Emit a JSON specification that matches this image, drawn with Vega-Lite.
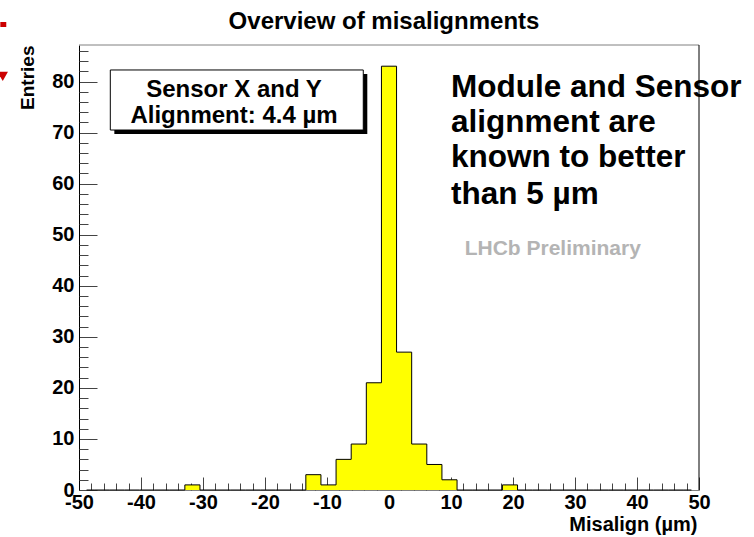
{
  "$schema": "https://vega.github.io/schema/vega-lite/v6.json",
  "width": 620,
  "height": 445,
  "autosize": "none",
  "padding": {"left": 79, "top": 45, "right": 55, "bottom": 47},
  "background": "white",
  "config": {
    "view": {"stroke": null},
    "font": "Liberation Sans",
    "axis": {"zindex": 1, "grid": false, "labelOverlap": false, "labelFlush": false, "labelBound": false}
  },
  "title": {
    "text": "Overview of misalignments",
    "font": "Liberation Sans",
    "fontSize": 24,
    "fontWeight": "bold",
    "color": "black",
    "anchor": "middle",
    "frame": "group",
    "baseline": "alphabetic",
    "offset": -7,
    "dx": -5,
    "dy": 24
  },
  "resolve": {"axis": {"x": "independent", "y": "independent"}},
  "datasets": {
    "bins": [
      {"misalign": -48.780, "entries": 0},
      {"misalign": -46.341, "entries": 0},
      {"misalign": -43.902, "entries": 0},
      {"misalign": -41.463, "entries": 0},
      {"misalign": -39.024, "entries": 0},
      {"misalign": -36.585, "entries": 0},
      {"misalign": -34.146, "entries": 0},
      {"misalign": -31.707, "entries": 1},
      {"misalign": -29.268, "entries": 0},
      {"misalign": -26.829, "entries": 0},
      {"misalign": -24.390, "entries": 0},
      {"misalign": -21.951, "entries": 0},
      {"misalign": -19.512, "entries": 0},
      {"misalign": -17.073, "entries": 0},
      {"misalign": -14.634, "entries": 0},
      {"misalign": -12.195, "entries": 3},
      {"misalign": -9.756, "entries": 1},
      {"misalign": -7.317, "entries": 6},
      {"misalign": -4.878, "entries": 9},
      {"misalign": -2.439, "entries": 21},
      {"misalign": 0.0, "entries": 83},
      {"misalign": 2.439, "entries": 27},
      {"misalign": 4.878, "entries": 9},
      {"misalign": 7.317, "entries": 5},
      {"misalign": 9.756, "entries": 2},
      {"misalign": 12.195, "entries": 0},
      {"misalign": 14.634, "entries": 0},
      {"misalign": 17.073, "entries": 0},
      {"misalign": 19.512, "entries": 1},
      {"misalign": 21.951, "entries": 0},
      {"misalign": 24.390, "entries": 0},
      {"misalign": 26.829, "entries": 0},
      {"misalign": 29.268, "entries": 0},
      {"misalign": 31.707, "entries": 0},
      {"misalign": 34.146, "entries": 0},
      {"misalign": 36.585, "entries": 0},
      {"misalign": 39.024, "entries": 0},
      {"misalign": 41.463, "entries": 0},
      {"misalign": 43.902, "entries": 0},
      {"misalign": 46.341, "entries": 0},
      {"misalign": 48.780, "entries": 0}
    ],
    "frame": [{}],
    "statsBox": [{"x": -44.95, "x2": -4.15, "y": 70.5, "y2": 82.26}],
    "statsShadow": [{"x": -44.3, "x2": -3.5, "y": 69.72, "y2": 81.47}],
    "statsText": [
      {"x": -25.0, "y": 76.9, "label": "Sensor X and Y"},
      {"x": -25.0, "y": 71.8, "label": "Alignment: 4.4 µm"}
    ],
    "note": [
      {"x": 10.0, "y": 76.97, "label": "Module and Sensor"},
      {"x": 10.0, "y": 70.11, "label": "alignment are"},
      {"x": 10.0, "y": 63.26, "label": "known to better"},
      {"x": 10.0, "y": 56.0, "label": "than 5 µm"}
    ],
    "stamp": [{"x": 12.2, "y": 46.0, "label": "LHCb Preliminary"}],
    "slideMark": [{"x": -62.69, "x2": -61.73, "y": 90.68, "y2": 91.66}],
    "slideArrow": [{"x": -62.3, "y": 81.0}]
  },
  "layer": [
    {
      "data": {"name": "bins"},
      "mark": {"type": "area", "interpolate": "step", "color": "#ffff00"},
      "encoding": {
        "x": {
          "field": "misalign",
          "type": "quantitative",
          "scale": {"domain": [-50, 50], "nice": false, "zero": false},
          "axis": {
            "orient": "bottom",
            "title": "Misalign (µm)",
            "values": [-50, -40, -30, -20, -10, 0, 10, 20, 30, 40, 50],
            "labelExpr": "'' + datum.value",
            "tickSize": -13,
            "tickColor": "#444444",
            "domainColor": "#808080",
            "labelFont": "Liberation Sans",
            "labelFontSize": 20,
            "labelFontWeight": "bold",
            "labelColor": "black",
            "labelPadding": 15,
            "labelFlush": false,
            "labelOverlap": false,
            "labelBound": false,
            "titleFont": "Liberation Sans",
            "titleFontSize": 20,
            "titleFontWeight": "bold",
            "titleColor": "black",
            "titleAlign": "right",
            "titleBaseline": "alphabetic",
            "titleX": 618,
            "titleY": 40
          }
        },
        "y": {
          "field": "entries",
          "type": "quantitative",
          "scale": {"domain": [0, 87.15], "nice": false},
          "axis": {
            "orient": "left",
            "title": "Entries",
            "values": [0, 10, 20, 30, 40, 50, 60, 70, 80],
            "labelExpr": "'' + datum.value",
            "tickSize": -18,
            "tickColor": "#444444",
            "domainColor": "black",
            "labelFont": "Liberation Sans",
            "labelFontSize": 20,
            "labelFontWeight": "bold",
            "labelColor": "black",
            "labelPadding": 23,
            "labelFlush": false,
            "labelOverlap": false,
            "labelBound": false,
            "titleFont": "Liberation Sans",
            "titleFontSize": 19,
            "titleFontWeight": "bold",
            "titleColor": "black",
            "titleAngle": -90,
            "titleAlign": "right",
            "titleBaseline": "alphabetic",
            "titleX": -46,
            "titleY": 0
          }
        }
      }
    },
    {
      "data": {"name": "bins"},
      "mark": {"type": "line", "interpolate": "step", "color": "black", "strokeWidth": 1},
      "encoding": {
        "x": {
          "field": "misalign",
          "type": "quantitative",
          "axis": {
            "orient": "bottom",
            "title": null,
            "values": [-48,-46,-44,-42,-38,-36,-34,-32,-28,-26,-24,-22,-18,-16,-14,-12,-8,-6,-4,-2,2,4,6,8,12,14,16,18,22,24,26,28,32,34,36,38,42,44,46,48],
            "labels": false,
            "domain": false,
            "tickSize": -7,
            "tickColor": "#444444"
          }
        },
        "y": {
          "field": "entries",
          "type": "quantitative",
          "axis": {
            "orient": "left",
            "title": null,
            "values": [2,4,6,8,12,14,16,18,22,24,26,28,32,34,36,38,42,44,46,48,52,54,56,58,62,64,66,68,72,74,76,78,82,84,86],
            "labels": false,
            "domain": false,
            "tickSize": -9,
            "tickColor": "#444444"
          }
        }
      }
    },
    {
      "data": {"name": "frame"},
      "mark": {"type": "rule", "color": "#808080", "strokeWidth": 1},
      "encoding": {"y": {"datum": 87.15, "type": "quantitative", "axis": null}}
    },
    {
      "data": {"name": "frame"},
      "mark": {"type": "rule", "color": "black", "strokeWidth": 1},
      "encoding": {"x": {"datum": 50, "type": "quantitative", "axis": null}}
    },
    {
      "data": {"name": "statsShadow"},
      "mark": {"type": "rect", "color": "black"},
      "encoding": {
        "x": {"field": "x", "type": "quantitative", "axis": null},
        "x2": {"field": "x2"},
        "y": {"field": "y", "type": "quantitative", "axis": null},
        "y2": {"field": "y2"}
      }
    },
    {
      "data": {"name": "statsBox"},
      "mark": {"type": "rect", "fill": "white", "stroke": "black", "strokeWidth": 1},
      "encoding": {
        "x": {"field": "x", "type": "quantitative", "axis": null},
        "x2": {"field": "x2"},
        "y": {"field": "y", "type": "quantitative", "axis": null},
        "y2": {"field": "y2"}
      }
    },
    {
      "data": {"name": "statsText"},
      "mark": {"type": "text", "align": "center", "baseline": "alphabetic", "font": "Liberation Sans", "fontSize": 24, "fontWeight": "bold", "color": "black"},
      "encoding": {
        "x": {"field": "x", "type": "quantitative", "axis": null},
        "y": {"field": "y", "type": "quantitative", "axis": null},
        "text": {"field": "label"}
      }
    },
    {
      "data": {"name": "note"},
      "mark": {"type": "text", "align": "left", "baseline": "alphabetic", "font": "Liberation Sans", "fontSize": 31.5, "fontWeight": "bold", "color": "black"},
      "encoding": {
        "x": {"field": "x", "type": "quantitative", "axis": null},
        "y": {"field": "y", "type": "quantitative", "axis": null},
        "text": {"field": "label"}
      }
    },
    {
      "data": {"name": "stamp"},
      "mark": {"type": "text", "align": "left", "baseline": "alphabetic", "font": "Liberation Sans", "fontSize": 21, "fontWeight": "bold", "color": "#b4b4b4"},
      "encoding": {
        "x": {"field": "x", "type": "quantitative", "axis": null},
        "y": {"field": "y", "type": "quantitative", "axis": null},
        "text": {"field": "label"}
      }
    },
    {
      "data": {"name": "slideMark"},
      "mark": {"type": "rect", "color": "#cc0000"},
      "encoding": {
        "x": {"field": "x", "type": "quantitative", "axis": null},
        "x2": {"field": "x2"},
        "y": {"field": "y", "type": "quantitative", "axis": null},
        "y2": {"field": "y2"}
      }
    },
    {
      "data": {"name": "slideArrow"},
      "mark": {"type": "point", "shape": "triangle-down", "filled": true, "color": "#cc0000", "size": 110, "opacity": 1},
      "encoding": {
        "x": {"field": "x", "type": "quantitative", "axis": null},
        "y": {"field": "y", "type": "quantitative", "axis": null}
      }
    }
  ]
}
